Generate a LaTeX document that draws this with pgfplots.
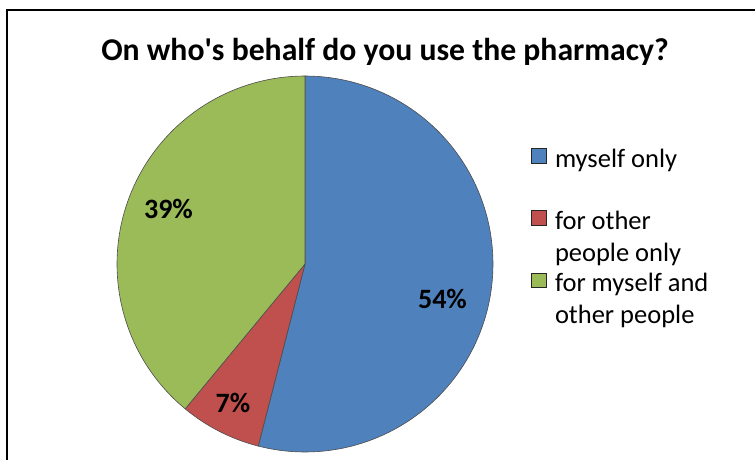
\documentclass[border=0pt]{standalone}
\usepackage{fontspec}
\setmainfont{Carlito}
\usepackage{pgfplots}
\usepackage{pgfplotstable}
\pgfplotsset{compat=1.18}
\definecolor{cblue}{HTML}{4F81BD}
\definecolor{cred}{HTML}{C0504D}
\definecolor{cgreen}{HTML}{9BBB59}
\pgfplotsset{sqlegend/.style={legend image code/.code={%
  \draw[##1, line width=0.9pt, draw=black!85] (0.5pt,9.6pt) rectangle (15pt,24.1pt);
  \path[draw=none, fill=none] (0pt,10pt) -- (22pt,10pt);}}}

\pgfplotstableread{
share
54
7
39
}\piedata
\pgfplotstablegetelem{0}{share}\of\piedata\let\va\pgfplotsretval
\pgfplotstablegetelem{1}{share}\of\piedata\let\vb\pgfplotsretval
\pgfplotstablegetelem{2}{share}\of\piedata\let\vc\pgfplotsretval
\pgfmathsetmacro\aA{90}
\pgfmathsetmacro\aB{90-3.6*\va}
\pgfmathsetmacro\aC{\aB-3.6*\vb}
\pgfmathsetmacro\aD{\aC-3.6*\vc}

\begin{document}
\begin{tikzpicture}
\clip (0,0) rectangle (755pt,459pt);
\begin{axis}[
  at={(0,0)}, anchor=south west,
  width=755pt, height=459pt, scale only axis,
  xmin=0, xmax=755, ymin=0, ymax=459,
  axis lines=none,
  legend style={at={(531/755,316.4/459)}, anchor=north west, draw=none, fill=none,
    font=\fontsize{26.5}{32}\selectfont, row sep=2.5pt, column sep=0pt,
    inner sep=0pt, outer sep=0pt,
    cells={anchor=west, align=left, inner sep=0pt, outer sep=0pt}},
  legend cell align=left,
]
\addplot[fill=cblue, draw=black!70, line width=0.6pt, mark=none, domain=\aB:\aA, samples=120, sqlegend]
  ({305+188*cos(x)},{195+188*sin(x)}) -- (axis cs:305,195) -- cycle;
\addlegendentry{\strut myself only\\\strut}
\addplot[fill=cred, draw=black!70, line width=0.6pt, mark=none, domain=\aC:\aB, samples=40, sqlegend]
  ({305+188*cos(x)},{195+188*sin(x)}) -- (axis cs:305,195) -- cycle;
\addlegendentry{\strut for other\\people only\strut}
\addplot[fill=cgreen, draw=black!70, line width=0.6pt, mark=none, domain=\aD:\aC, samples=100, sqlegend]
  ({305+188*cos(x)},{195+188*sin(x)}) -- (axis cs:305,195) -- cycle;
\addlegendentry{\strut for myself and\\other people\strut}

\node[anchor=base, font=\bfseries\fontsize{28}{32}\selectfont] at (axis cs:442.5,151) {54\%};
\node[anchor=base, font=\bfseries\fontsize{28}{32}\selectfont] at (axis cs:233,46.3) {7\%};
\node[anchor=base, font=\bfseries\fontsize{28}{32}\selectfont] at (axis cs:168.5,241) {39\%};
\node[anchor=base, font=\bfseries\fontsize{31.7}{36}\selectfont] at (axis cs:385,398.3) {On who\textquotesingle s behalf do you use the pharmacy?};
\draw[line width=2pt] (axis cs:7,-20) -- (axis cs:7,448.5) -- (axis cs:800,448.5);
\end{axis}
\end{tikzpicture}
\end{document}
